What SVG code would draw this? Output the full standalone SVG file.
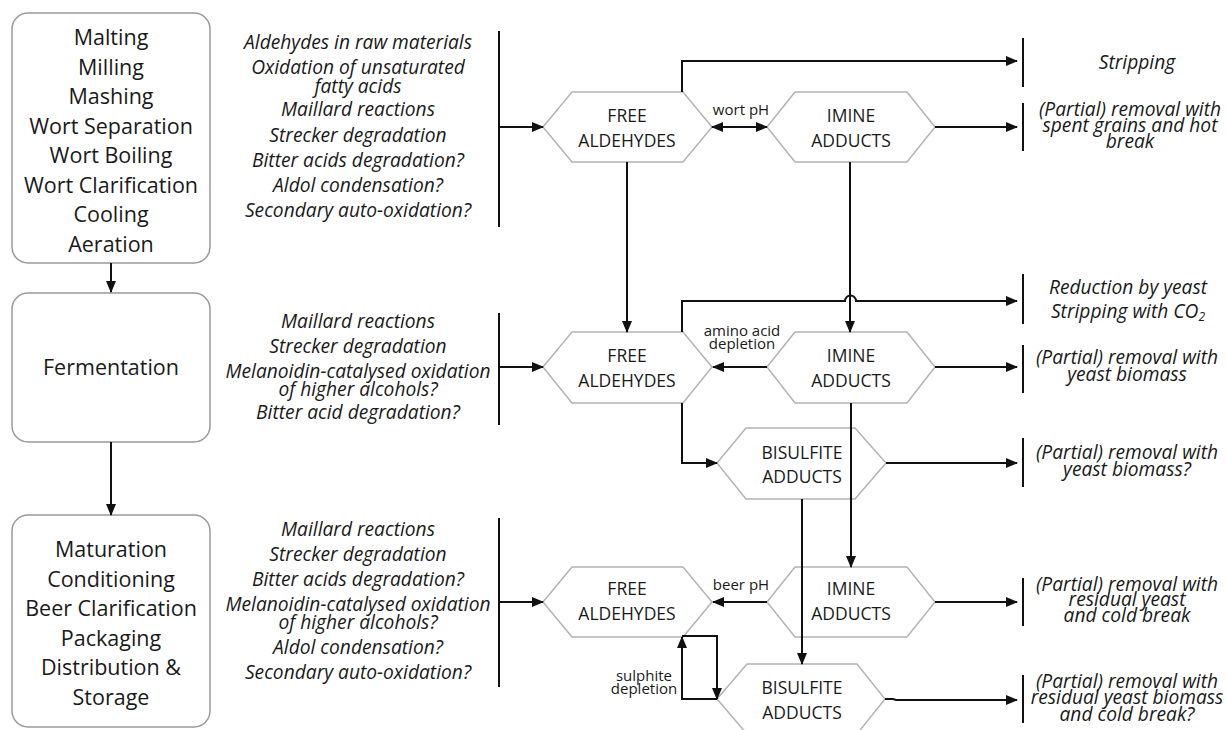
<svg xmlns="http://www.w3.org/2000/svg" width="1227" height="730" viewBox="0 0 1227 730">
<defs>
<marker id="ah" markerUnits="userSpaceOnUse" markerWidth="12" markerHeight="10" refX="11" refY="5" orient="auto-start-reverse">
<path d="M0,0 L12,5 L0,10 z" fill="#111"/>
</marker>
<style>
.box{fill:#fff;stroke:#999;stroke-width:1.5}
.hex{fill:#fff;stroke:#b3b3b3;stroke-width:1.5}
.bt{font-family:"Open Sans","Noto Sans",sans-serif;font-size:21.5px;fill:#1a1a1a;text-anchor:middle}
.ht{font-family:"Open Sans","Noto Sans",sans-serif;font-size:17.5px;fill:#1a1a1a;text-anchor:middle}
.it{font-family:"Open Sans","Noto Sans",sans-serif;font-size:19.2px;font-style:italic;fill:#1a1a1a;text-anchor:middle}
.lb{font-family:"Open Sans","Noto Sans",sans-serif;font-size:15px;fill:#1a1a1a;text-anchor:middle}
.c{fill:none;stroke:#111;stroke-width:2}
.a{marker-end:url(#ah)}
</style>
</defs>
<rect width="1227" height="730" fill="#fff"/>

<g id="box1">
<rect class="box" x="12" y="13" width="198" height="250" rx="16"/>
<text class="bt" x="111" y="45">Malting</text>
<text class="bt" x="111" y="74.5">Milling</text>
<text class="bt" x="111" y="104">Mashing</text>
<text class="bt" x="111" y="133.5">Wort Separation</text>
<text class="bt" x="111" y="163">Wort Boiling</text>
<text class="bt" x="111" y="192.5">Wort Clarification</text>
<text class="bt" x="111" y="222">Cooling</text>
<text class="bt" x="111" y="251.5">Aeration</text>
</g>
<g id="box2">
<rect class="box" x="12" y="293" width="198" height="149" rx="16"/>
<text class="bt" x="111" y="375">Fermentation</text>
</g>
<g id="box3">
<rect class="box" x="12" y="515" width="198" height="212" rx="16"/>
<text class="bt" x="111" y="557">Maturation</text>
<text class="bt" x="111" y="586.5">Conditioning</text>
<text class="bt" x="111" y="616">Beer Clarification</text>
<text class="bt" x="111" y="645.5">Packaging</text>
<text class="bt" x="111" y="675">Distribution &amp;</text>
<text class="bt" x="111" y="704.5">Storage</text>
</g>

<g id="sources1">
<text class="it" x="358" y="49">Aldehydes in raw materials</text>
<text class="it" x="358" y="74">Oxidation of unsaturated</text>
<text class="it" x="358" y="93">fatty acids</text>
<text class="it" x="358" y="116">Maillard reactions</text>
<text class="it" x="358" y="142">Strecker degradation</text>
<text class="it" x="358" y="167">Bitter acids degradation?</text>
<text class="it" x="358" y="192">Aldol condensation?</text>
<text class="it" x="358" y="217">Secondary auto-oxidation?</text>
</g>
<g id="sources2">
<text class="it" x="358" y="328">Maillard reactions</text>
<text class="it" x="358" y="353">Strecker degradation</text>
<text class="it" x="358" y="378">Melanoidin-catalysed oxidation</text>
<text class="it" x="358" y="396">of higher alcohols?</text>
<text class="it" x="358" y="419">Bitter acid degradation?</text>
</g>
<g id="sources3">
<text class="it" x="358" y="536">Maillard reactions</text>
<text class="it" x="358" y="561">Strecker degradation</text>
<text class="it" x="358" y="586">Bitter acids degradation?</text>
<text class="it" x="358" y="611">Melanoidin-catalysed oxidation</text>
<text class="it" x="358" y="629">of higher alcohols?</text>
<text class="it" x="358" y="654">Aldol condensation?</text>
<text class="it" x="358" y="679">Secondary auto-oxidation?</text>
</g>

<g id="free1">
<polygon class="hex" points="543,127 572,92 683,92 712,127 683,162 572,162"/>
<text class="ht" x="627" y="121.5">FREE</text>
<text class="ht" x="627" y="146.5">ALDEHYDES</text>
</g>
<g id="imine1">
<polygon class="hex" points="767,127 795,92 907,92 935,127 907,162 795,162"/>
<text class="ht" x="851" y="121.5">IMINE</text>
<text class="ht" x="851" y="146.5">ADDUCTS</text>
</g>
<g id="free2">
<polygon class="hex" points="543,367 572,332 683,332 712,367 683,403 572,403"/>
<text class="ht" x="627" y="361.5">FREE</text>
<text class="ht" x="627" y="386.5">ALDEHYDES</text>
</g>
<g id="imine2">
<polygon class="hex" points="767,367 795,332 907,332 935,367 907,403 795,403"/>
<text class="ht" x="851" y="361.5">IMINE</text>
<text class="ht" x="851" y="386.5">ADDUCTS</text>
</g>
<g id="bisulfite1">
<polygon class="hex" points="717,463 746,428 855,428 886,463 855,499 746,499"/>
<text class="ht" x="802" y="458.5">BISULFITE</text>
<text class="ht" x="802" y="482.5">ADDUCTS</text>
</g>
<g id="free3">
<polygon class="hex" points="543,602 572,567 683,567 712,602 683,637 572,637"/>
<text class="ht" x="627" y="594.5">FREE</text>
<text class="ht" x="627" y="619.5">ALDEHYDES</text>
</g>
<g id="imine3">
<polygon class="hex" points="767,602 795,567 907,567 935,602 907,637 795,637"/>
<text class="ht" x="851" y="594.5">IMINE</text>
<text class="ht" x="851" y="619.5">ADDUCTS</text>
</g>
<g id="bisulfite2">
<polygon class="hex" points="717,699 747,664 857,664 885,699 857,734 747,734"/>
<text class="ht" x="802" y="693.5">BISULFITE</text>
<text class="ht" x="802" y="718.5">ADDUCTS</text>
</g>

<g id="connectors">
<path class="c a" d="M111,263 V292"/>
<path class="c a" d="M111,442 V515"/>
<path class="c" d="M499,31 V227 M499,313 V425 M499,518 V687"/>
<path class="c a" d="M499,127 H543"/>
<path class="c a" d="M499,367 H543"/>
<path class="c a" d="M499,602 H543"/>
<path class="c a" d="M682,92 V61 H1017"/>
<path class="c a" d="M712,127 H767" marker-start="url(#ah)"/>
<path class="c a" d="M935,127 H1017"/>
<path class="c a" d="M627,162 V332"/>
<path class="c a" d="M850,162 V332"/>
<path class="c a" d="M682,332 V301 H845 A5.5,5.5 0 0 1 856,301 H1017"/>
<path class="c a" d="M767,367 H713"/>
<path class="c a" d="M935,367 H1017"/>
<path class="c a" d="M682,403 V463 H717"/>
<path class="c a" d="M851,403 V567"/>
<path class="c a" d="M886,463 H1017"/>
<path class="c a" d="M802,499 V664"/>
<path class="c a" d="M767,602 H713"/>
<path class="c a" d="M935,602 H1017"/>
<path class="c a" d="M682,636 H717 V699"/>
<path class="c a" d="M717,699 H682 V637"/>
<path class="c a" d="M885,699 H893 L896,700 H1017"/>
<path class="c" d="M1023,38 V87 M1023,103 V151 M1023,274 V324 M1023,345 V393 M1023,438 V487 M1023,578 V626 M1023,675 V723"/>
</g>

<g id="labels">
<text class="lb" x="741" y="115">wort pH</text>
<text class="lb" x="742" y="336">amino acid</text>
<text class="lb" x="742" y="349">depletion</text>
<text class="lb" x="741" y="590">beer pH</text>
<text class="lb" x="644" y="681">sulphite</text>
<text class="lb" x="644" y="694">depletion</text>
</g>

<g id="sinks">
<text class="it" x="1137" y="69">Stripping</text>
<text class="it" x="1130" y="116">(Partial) removal with</text>
<text class="it" x="1130" y="132">spent grains and hot</text>
<text class="it" x="1130" y="148">break</text>
<text class="it" x="1128" y="294">Reduction by yeast</text>
<text class="it" x="1128" y="318">Stripping with CO<tspan font-size="12" dy="3">2</tspan></text>
<text class="it" x="1127" y="364">(Partial) removal with</text>
<text class="it" x="1127" y="381">yeast biomass</text>
<text class="it" x="1127" y="459">(Partial) removal with</text>
<text class="it" x="1127" y="476">yeast biomass?</text>
<text class="it" x="1127" y="591">(Partial) removal with</text>
<text class="it" x="1127" y="606">residual yeast</text>
<text class="it" x="1127" y="622">and cold break</text>
<text class="it" x="1127" y="688">(Partial) removal with</text>
<text class="it" x="1127" y="704">residual yeast biomass</text>
<text class="it" x="1127" y="721">and cold break?</text>
</g>
</svg>
